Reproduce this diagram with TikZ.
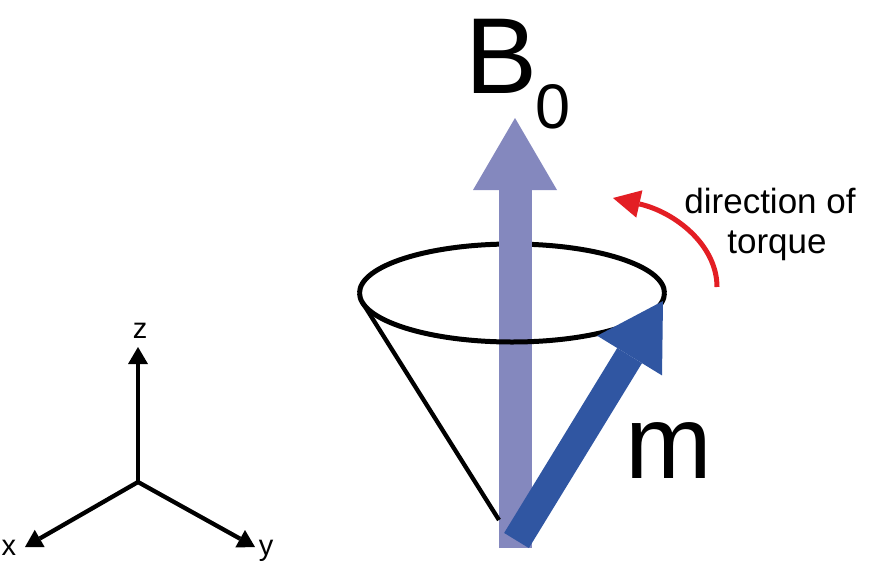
\documentclass[tikz,border=0pt]{standalone}
\usepackage{fontspec}
\setmainfont{Liberation Sans}
\usetikzlibrary{arrows.meta}
\definecolor{fieldblue}{HTML}{8488BE}
\definecolor{momentblue}{HTML}{3056A2}
\definecolor{torquered}{HTML}{E31E24}
\tikzset{
  axis/.style={line width=4.3pt,-{Triangle[width=20pt,length=17pt,line width=0pt]}},
  axislabel/.style={anchor=base,inner sep=0pt,font=\fontsize{29}{29}\selectfont},
  rim/.style={line width=5pt},
}
\begin{document}
\begin{tikzpicture}[x=1pt,y=-1pt]
\useasboundingbox (0,0) rectangle (870,568);
% coordinate axes
\coordinate (o) at (138,482);
\coordinate (zt) at (138,347);
\coordinate (xt) at (25,547);
\coordinate (yt) at (255,547);
\draw[axis] (o) -- (zt);
\draw[axis] (o) -- (xt);
\draw[axis] (o) -- (yt);
\node[axislabel] (zl) at (140,338) {z};
\node[axislabel] (xl) at (9,555) {x};
\node[axislabel] (yl) at (266,555) {y};
% cone: back rim, field arrow, front rim
\coordinate (apex) at (499,520);
\draw[rim] (664.5,293) arc[start angle=0,end angle=180,x radius=152.5pt,y radius=49pt];
\coordinate (b0tail) at (515,548);
\coordinate (b0tip) at (515,118);
\draw[fieldblue,line width=33pt,-{Triangle[width=84pt,length=72pt,line width=0pt]}] (b0tail) -- (b0tip);
\draw[rim] (359.5,293) arc[start angle=180,end angle=360,x radius=152.5pt,y radius=49pt];
\draw[line width=4.3pt] (362.6,302.8) -- (apex);
% magnetisation
\coordinate (mtail) at (516.5,540.5);
\coordinate (mtip) at (663,301);
\draw[momentblue,line width=29pt,-{Triangle[width=76pt,length=64pt,line width=0pt]}] (mtail) -- (mtip);
% torque
\coordinate (tq0) at (717,287);
\coordinate (tq1) at (613,198);
\draw[torquered,line width=5pt,-{Triangle[width=28pt,length=27pt,line width=0pt]}] (tq0) .. controls (717,245) and (675,212) .. (tq1);
% labels
\node[anchor=base west,inner sep=0pt,font=\fontsize{108}{108}\selectfont] (bl) at (465,93) {B};
\node[anchor=base west,inner sep=0pt,font=\fontsize{63}{63}\selectfont] (bsub) at (535,128) {0};
\node[anchor=base west,inner sep=0pt,font=\fontsize{104}{104}\selectfont] (ml) at (625,478) {m};
\node[anchor=base,inner sep=0pt,font=\fontsize{35}{35}\selectfont] (tl1) at (770,213) {direction of};
\node[anchor=base,inner sep=0pt,font=\fontsize{35}{35}\selectfont] (tl2) at (777,253) {torque};
\end{tikzpicture}
\end{document}
